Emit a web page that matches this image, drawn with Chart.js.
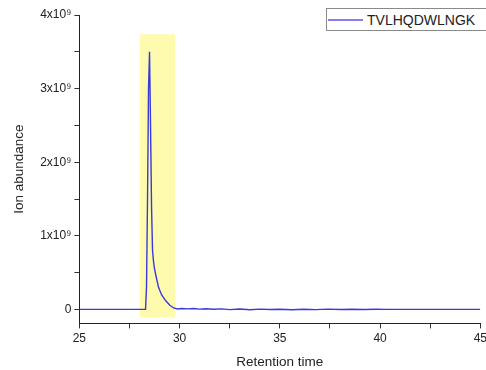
<!DOCTYPE html>
<html>
<head>
<meta charset="utf-8">
<script src="https://cdn.jsdelivr.net/npm/chart.js@4.4.1/dist/chart.umd.min.js"></script>
<style>
  body { margin: 0; background: #fff; }
  #wrap { position: relative; width: 486px; height: 370px; overflow: hidden; }
  #legend {
    position: absolute; left: 326px; top: 8px; width: 170px; height: 21px;
    border: 1px solid #8a8a8a; background: #fff;
    font: 14px "Liberation Sans", Arial, sans-serif; color: #222;
    display: flex; align-items: center;
  }
  #legend .swatch { display: inline-block; width: 35px; height: 2px; background: #8580ee; margin: 0 4px 0 1px; }
</style>
</head>
<body>
<div id="wrap">
  <canvas id="chart" width="490" height="370"></canvas>
  <div id="legend"></div>
</div>
<script>
// retention time (min) and ion abundance
var rtTime = [25, 26, 27, 28, 28.3, 28.35, 28.4, 28.45, 28.5, 28.55, 28.6, 28.65, 28.7, 28.75,
    28.85, 28.95, 29.1, 29.3, 29.5, 29.7, 29.9, 30.1, 30.4, 30.7, 31.0, 31.3, 31.7, 32.1,
    32.5, 33.0, 33.5, 34.0, 34.5, 35.0, 35.6, 36.2, 36.8, 37.4, 38.0, 38.6, 39.2, 39.8,
    40.3, 42, 44, 45];
var ionAbundance = [0, 0, 0, 0, 0, 0.3e9, 1.5e9, 3.0e9, 3.5e9, 2.5e9, 1.4e9, 0.8e9, 0.65e9, 0.55e9,
    0.42e9, 0.3e9, 0.2e9, 0.12e9, 0.06e9, 0.02e9, 0.006e9, 0.012e9, 0.008e9, 0.012e9, 0.004e9, 0.009e9, 0.002e9, 0.007e9,
    -0.003e9, 0.005e9, -0.004e9, 0.004e9, -0.002e9, 0.003e9, -0.004e9, 0.002e9, -0.003e9, 0.004e9, -0.002e9, 0.003e9, -0.002e9, 0.002e9,
    0, 0, 0, 0];
var seriesLabel = 'TVLHQDWLNGK';

// highlighted integration window
var bandX = [28, 29.8];
var bandTop = 3.74e9;
var bandBottom = -0.11e9;

var xTicks = [25, 27.5, 30, 32.5, 35, 37.5, 40, 42.5, 45];
var yTicks = [0, 0.5e9, 1e9, 1.5e9, 2e9, 2.5e9, 3e9, 3.5e9, 4e9];

var sup9 = '\u2079';

function yLabel(v) {
    if (v === 0) return '0';
    if (v % 1e9 !== 0) return '';
    return (v / 1e9) + 'x10' + sup9;
}

function xLabel(v) {
    return v % 5 === 0 ? String(v) : '';
}

function toPoints(xs, ys) {
    var out = [];
    for (var i = 0; i < xs.length; i++) out.push({ x: xs[i], y: ys[i] });
    return out;
}

var font = { family: '"Liberation Sans", Arial, sans-serif', size: 12 };
var titleFont = { family: '"Liberation Sans", Arial, sans-serif', size: 13.5 };

var chart = new Chart(document.getElementById('chart').getContext('2d'), {
    type: 'line',
    data: {
        datasets: [{
            label: seriesLabel,
            data: toPoints(rtTime, ionAbundance),
            borderColor: '#3a3ad8',
            borderWidth: 1.4,
            pointRadius: 0,
            tension: 0,
            fill: false,
            order: 1
        }, {
            label: 'window',
            data: [{ x: bandX[0], y: bandTop }, { x: bandX[1], y: bandTop }],
            borderWidth: 0,
            borderColor: 'rgba(0,0,0,0)',
            backgroundColor: '#fefaae',
            pointRadius: 0,
            fill: { value: bandBottom },
            order: 2
        }]
    },
    options: {
        responsive: false,
        animation: false,
        layout: { padding: { left: 11, right: 0, top: 15, bottom: 0 } },
        plugins: {
            legend: { display: false },
            tooltip: { enabled: false }
        },
        scales: {
            x: {
                type: 'linear',
                min: 25,
                max: 45,
                afterBuildTicks: function (s) { s.ticks = xTicks.map(function (v) { return { value: v }; }); },
                ticks: { callback: xLabel, font: font, color: '#222', padding: 3, maxRotation: 0, autoSkip: false },
                grid: { drawOnChartArea: false, tickLength: 5, color: '#333', tickColor: '#333' },
                border: { color: '#222', width: 1 },
                title: { display: true, text: 'Retention time', font: titleFont, color: '#222', padding: { top: 5, bottom: 0 } }
            },
            y: {
                min: -0.19e9,
                max: 4e9,
                afterBuildTicks: function (s) { s.ticks = yTicks.map(function (v) { return { value: v }; }); },
                ticks: { callback: yLabel, font: font, color: '#222', padding: 3, autoSkip: false },
                grid: { drawOnChartArea: false, tickLength: 5, color: '#333', tickColor: '#333' },
                border: { color: '#222', width: 1 },
                title: { display: true, text: 'Ion abundance', font: titleFont, color: '#222', padding: { top: 0, bottom: 10 } }
            }
        }
    }
});

// html legend for the main trace
document.getElementById('legend').innerHTML =
    '<span class="swatch"></span><span>' + chart.data.datasets[0].label + '</span>';
</script>
</body>
</html>
